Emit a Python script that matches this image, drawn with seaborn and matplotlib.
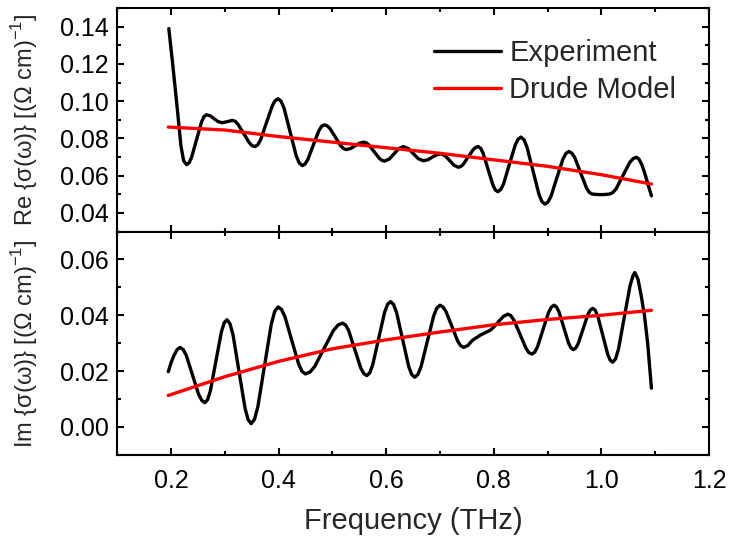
import matplotlib
matplotlib.use("Agg")
from matplotlib import pyplot as plt
from matplotlib.ticker import MultipleLocator, FormatStrFormatter
import seaborn as sns

# (frequency THz, conductivity) points
re_exp_pts = [
    (0.196, 0.139), (0.2035, 0.119), (0.211, 0.098), (0.2185, 0.076), (0.2235, 0.068),
    (0.229, 0.0659), (0.2336, 0.0669), (0.2383, 0.0698), (0.2475, 0.0793), (0.2568, 0.0888),
    (0.2614, 0.0917), (0.266, 0.0927), (0.2733, 0.0921), (0.2805, 0.0905), (0.2878, 0.0890),
    (0.295, 0.0884), (0.3045, 0.0890), (0.314, 0.0897), (0.3193, 0.0892), (0.3245, 0.0876),
    (0.335, 0.0827), (0.3455, 0.0777), (0.3508, 0.0761), (0.356, 0.0756), (0.3614, 0.0766),
    (0.3668, 0.0794), (0.3775, 0.0885), (0.3883, 0.0975), (0.3936, 0.1003), (0.399, 0.1013),
    (0.4046, 0.1000), (0.4103, 0.0961), (0.4215, 0.0834), (0.4328, 0.0706), (0.4384, 0.0668),
    (0.444, 0.0654), (0.4491, 0.0662), (0.4543, 0.0686), (0.4645, 0.0764), (0.4748, 0.0841),
    (0.4799, 0.0865), (0.485, 0.0873), (0.4901, 0.0868), (0.4953, 0.0854), (0.5055, 0.0807),
    (0.5158, 0.0759), (0.5209, 0.0745), (0.526, 0.0740), (0.534, 0.0746), (0.542, 0.0760),
    (0.550, 0.0774), (0.558, 0.0780), (0.5629, 0.0776), (0.5678, 0.0765), (0.5775, 0.0729),
    (0.5873, 0.0693), (0.5921, 0.0682), (0.597, 0.0678), (0.6058, 0.0689), (0.6145, 0.0717),
    (0.6233, 0.0745), (0.632, 0.0756), (0.6413, 0.0745), (0.6505, 0.0718), (0.6598, 0.0691),
    (0.669, 0.0680), (0.6773, 0.0685), (0.6855, 0.0699), (0.6938, 0.0712), (0.702, 0.0717),
    (0.710, 0.0706), (0.718, 0.0681), (0.726, 0.0656), (0.734, 0.0645), (0.7386, 0.0649),
    (0.7433, 0.0661), (0.7525, 0.0701), (0.7618, 0.0740), (0.7664, 0.0752), (0.771, 0.0756),
    (0.7756, 0.0747), (0.7801, 0.0721), (0.7893, 0.0635), (0.7984, 0.0549), (0.8029, 0.0523),
    (0.8075, 0.0514), (0.8129, 0.0525), (0.8183, 0.0557), (0.829, 0.0661), (0.8398, 0.0764),
    (0.8451, 0.0796), (0.8505, 0.0807), (0.8561, 0.0793), (0.8616, 0.0754), (0.8728, 0.0627),
    (0.8839, 0.0500), (0.8894, 0.0461), (0.895, 0.0447), (0.9006, 0.0458), (0.9062, 0.0488),
    (0.9173, 0.0589), (0.9285, 0.0689), (0.934, 0.0719), (0.9396, 0.0730), (0.945, 0.0721),
    (0.9505, 0.0697), (0.9613, 0.0616), (0.9722, 0.0534), (0.9776, 0.0510), (0.983, 0.0501),
    (0.991, 0.0499), (0.999, 0.0498), (1.007, 0.0499), (1.015, 0.0501), (1.0213, 0.0509),
    (1.0275, 0.0530), (1.040, 0.0600), (1.0525, 0.0670), (1.0588, 0.0691), (1.065, 0.0699),
    (1.070, 0.0688), (1.075, 0.0660), (1.080, 0.0618), (1.085, 0.0570), (1.089, 0.0530),
    (1.093, 0.0492),
]

im_exp_pts = [
    (0.195, 0.0198), (0.2005, 0.0232), (0.206, 0.0258), (0.2115, 0.0277), (0.217, 0.0285),
    (0.2228, 0.0277), (0.2285, 0.0256), (0.240, 0.0186), (0.2515, 0.0116), (0.2573, 0.0095),
    (0.263, 0.0087), (0.2681, 0.0098), (0.2733, 0.0130), (0.2835, 0.0236), (0.2938, 0.0341),
    (0.2989, 0.0373), (0.304, 0.0384), (0.3096, 0.0370), (0.3153, 0.0330), (0.3265, 0.0198),
    (0.3378, 0.0066), (0.3434, 0.0026), (0.349, 0.0012), (0.3553, 0.0028), (0.3615, 0.0073),
    (0.374, 0.0221), (0.3865, 0.0369), (0.3928, 0.0414), (0.399, 0.0430), (0.4054, 0.0421),
    (0.4118, 0.0395), (0.4245, 0.0310), (0.4373, 0.0225), (0.4436, 0.0199), (0.450, 0.0190),
    (0.4586, 0.0197), (0.4673, 0.0217), (0.4845, 0.0281), (0.5018, 0.0345), (0.5104, 0.0365),
    (0.519, 0.0372), (0.5246, 0.0365), (0.5303, 0.0345), (0.5415, 0.0278), (0.5528, 0.0211),
    (0.5584, 0.0191), (0.564, 0.0184), (0.5695, 0.0194), (0.575, 0.0223), (0.586, 0.0317),
    (0.597, 0.0410), (0.6025, 0.0439), (0.608, 0.0449), (0.6136, 0.0439), (0.6193, 0.0410),
    (0.6305, 0.0314), (0.6418, 0.0217), (0.6474, 0.0188), (0.653, 0.0178), (0.6589, 0.0188),
    (0.6648, 0.0216), (0.6765, 0.0307), (0.6883, 0.0398), (0.6941, 0.0426), (0.700, 0.0436),
    (0.7055, 0.0430), (0.711, 0.0414), (0.722, 0.0361), (0.733, 0.0307), (0.7385, 0.0291),
    (0.744, 0.0285), (0.752, 0.0292), (0.760, 0.0310), (0.775, 0.0329), (0.794, 0.0347),
    (0.802, 0.0362), (0.810, 0.0380), (0.818, 0.0396), (0.826, 0.0404), (0.8316, 0.0399),
    (0.8373, 0.0383), (0.8485, 0.0333), (0.8598, 0.0282), (0.8654, 0.0266), (0.871, 0.0261),
    (0.8761, 0.0268), (0.8813, 0.0287), (0.8915, 0.0349), (0.9018, 0.0410), (0.9069, 0.0429),
    (0.912, 0.0436), (0.9165, 0.0430), (0.921, 0.0413), (0.930, 0.0357), (0.939, 0.0300),
    (0.9435, 0.0283), (0.948, 0.0277), (0.9525, 0.0283), (0.957, 0.0299), (0.966, 0.0351),
    (0.975, 0.0403), (0.9795, 0.0419), (0.984, 0.0425), (0.9886, 0.0418), (0.9933, 0.0397),
    (1.0025, 0.0329), (1.0118, 0.0260), (1.0164, 0.0239), (1.021, 0.0232), (1.0264, 0.0244),
    (1.0318, 0.0279), (1.0425, 0.0393), (1.0533, 0.0506), (1.0586, 0.0541), (1.062, 0.0553),
    (1.068, 0.0530), (1.074, 0.0470), (1.080, 0.0400), (1.086, 0.0300), (1.093, 0.0139),
]

freq_drude = [0.195, 0.3, 0.4, 0.5, 0.6, 0.7, 0.8, 0.9, 1.0, 1.093]
re_drude = [0.0861, 0.0845, 0.0810, 0.0780, 0.0750, 0.0720, 0.0685, 0.0650, 0.0605, 0.0555]
im_drude = [0.0113, 0.0180, 0.0235, 0.0280, 0.0312, 0.0340, 0.0366, 0.0385, 0.0400, 0.0418]

freq_re, re_exp = map(list, zip(*re_exp_pts))
freq_im, im_exp = map(list, zip(*im_exp_pts))

sns.set_theme(style="ticks")
plt.rcParams["font.family"] = ["Liberation Sans", "DejaVu Sans"]
plt.rcParams["mathtext.fontset"] = "custom"
plt.rcParams["mathtext.rm"] = "Liberation Sans"
plt.rcParams["axes.linewidth"] = 1.5

fig, (ax1, ax2) = plt.subplots(2, 1, sharex=True, figsize=(7.37, 5.39), dpi=100)
fig.subplots_adjust(left=0.159, right=0.962, top=0.985, bottom=0.156, hspace=0)

line_kw = dict(lw=2.4, sort=False, estimator=None, solid_joinstyle="round")
sns.lineplot(x=freq_re, y=re_exp, ax=ax1, color="black", label="Experiment", **line_kw)
sns.lineplot(x=freq_drude, y=re_drude, ax=ax1, color="#ff0000", label="Drude Model", **line_kw)
sns.lineplot(x=freq_im, y=im_exp, ax=ax2, color="black", **line_kw)
sns.lineplot(x=freq_drude, y=im_drude, ax=ax2, color="#ff0000", **line_kw)

ax1.set_xlim(0.1, 1.2)
ax1.set_ylim(0.03, 0.15)
ax2.set_ylim(-0.01, 0.07)

for ax in (ax1, ax2):
    ax.yaxis.set_major_locator(MultipleLocator(0.02))
    ax.yaxis.set_minor_locator(MultipleLocator(0.01))
    ax.yaxis.set_major_formatter(FormatStrFormatter("%.2f"))
    ax.tick_params(which="both", direction="in", top=True, right=True,
                   width=1.5, labelsize=18, pad=6, colors="black")
    ax.tick_params(which="major", length=5)
    ax.tick_params(which="minor", length=3)
    for s in ax.spines.values():
        s.set_color("black")
ax2.xaxis.set_major_locator(MultipleLocator(0.2))
ax2.xaxis.set_minor_locator(MultipleLocator(0.1))
ax2.xaxis.set_major_formatter(FormatStrFormatter("%.1f"))
ax2.tick_params(axis="x", pad=10)

ax1.set_ylabel("Re {σ(ω)} [(Ω cm)$^{-1}$]", fontsize=17)
ax2.set_ylabel("Im {σ(ω)} [(Ω cm)$^{-1}$]", fontsize=17)
ax1.yaxis.set_label_coords(-0.13, 0.5)
ax2.yaxis.set_label_coords(-0.13, 0.5)
ax2.set_xlabel("Frequency (THz)", fontsize=21, labelpad=10)

ax1.legend(loc="upper left", bbox_to_anchor=(0.51, 0.925), frameon=False,
           fontsize=21, handlelength=2.3, handletextpad=0.3, labelspacing=0.31,
           borderpad=0)

fig.savefig("out.png", dpi=100)
